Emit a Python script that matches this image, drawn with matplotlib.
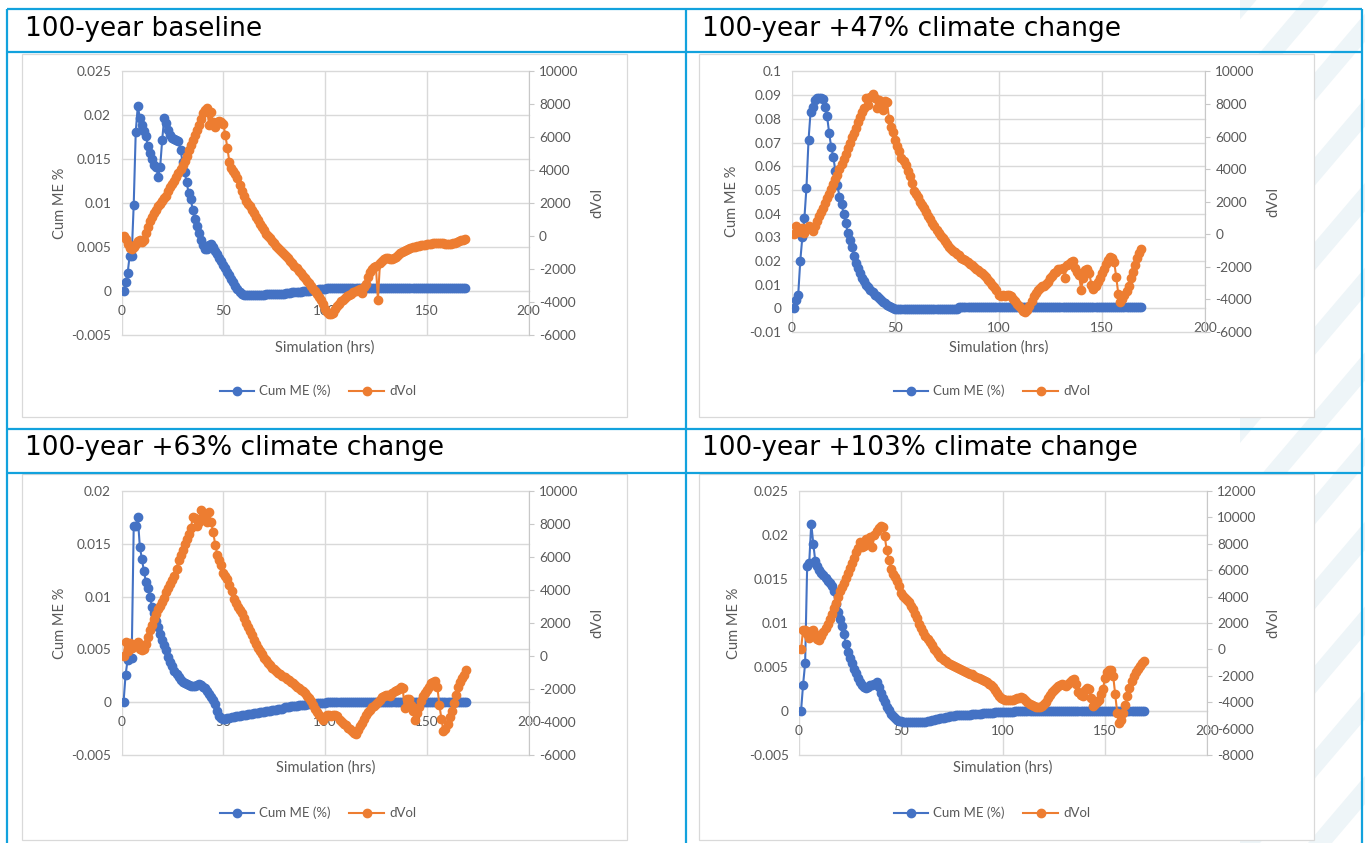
import matplotlib
matplotlib.use('Agg')
import matplotlib.pyplot as plt
import numpy as np
from matplotlib.patches import Rectangle, Polygon
from matplotlib.lines import Line2D
from matplotlib.ticker import FuncFormatter

plt.rcParams['font.family'] = ['Lato', 'DejaVu Sans']

W, H = 1365, 843
BLUE = '#4472c4'
ORANGE = '#ed7d31'
GRID = '#d9d9d9'
TXT = '#595959'
BORDER = '#12a2dd'
MS = 6.0
LW = 1.5

# simulation hours (one value per hour)
hours = list(range(1, 170))

# ---- 100-year baseline ----
base_me = [
    0.0, 0.001, 0.002, 0.004, 0.004, 0.0098, 0.0181, 0.021, 0.0197, 0.0189,
    0.0182, 0.0176, 0.0165, 0.0157, 0.015, 0.0143, 0.0141, 0.013, 0.0141, 0.0172,
    0.0197, 0.0191, 0.0183, 0.0177, 0.0174, 0.0173, 0.0172, 0.017, 0.016, 0.0147,
    0.0135, 0.0124, 0.0111, 0.0105, 0.0092, 0.0082, 0.0074, 0.0066, 0.0058, 0.0052,
    0.0048, 0.0048, 0.0052, 0.0053, 0.005, 0.0046, 0.0042, 0.0038, 0.0034, 0.003,
    0.0026, 0.0022, 0.0018, 0.0014, 0.001, 0.0006, 0.0002, -0.0001, -0.0003, -0.0004,
    -0.0004, -0.0004, -0.0004, -0.0004, -0.0004, -0.0004, -0.0004, -0.0004, -0.0004, -0.0004,
    -0.0003, -0.0003, -0.0003, -0.0003, -0.0003, -0.0003, -0.0003, -0.0003, -0.0003, -0.0003,
    -0.0002, -0.0002, -0.0002, -0.0001, -0.0001, -0.0001, -0.0001, -0.0001, 0.0, 0.0,
    0.0, 0.0, 0.0001, 0.0001, 0.0001, 0.0001, 0.0002, 0.0002, 0.0002, 0.0002,
    0.0003, 0.0003, 0.0003, 0.0003, 0.0003, 0.0003, 0.0003, 0.0003, 0.0003, 0.0003,
    0.0003, 0.0003, 0.0003, 0.0003, 0.0003, 0.0003, 0.0003, 0.0003, 0.0003, 0.0003,
    0.0003, 0.0003, 0.0003, 0.0003, 0.0003, 0.0003, 0.0003, 0.0003, 0.0003, 0.0003,
    0.0003, 0.0003, 0.0003, 0.0003, 0.0003, 0.0003, 0.0003, 0.0003, 0.0003, 0.0003,
    0.0003, 0.0003, 0.0003, 0.0003, 0.0003, 0.0003, 0.0003, 0.0003, 0.0003, 0.0003,
    0.0003, 0.0003, 0.0003, 0.0003, 0.0003, 0.0003, 0.0003, 0.0003, 0.0003, 0.0003,
    0.0003, 0.0003, 0.0003, 0.0003, 0.0003, 0.0003, 0.0003, 0.0003, 0.0003,
]
base_vol = [
    0, -200, -500, -700, -800, -650, -500, -300, -250, -350,
    -250, 200, 550, 900, 1150, 1400, 1600, 1800, 1950, 2100,
    2300, 2450, 2700, 2950, 3150, 3350, 3600, 3800, 4050, 4300,
    4550, 4850, 5200, 5500, 5800, 6150, 6450, 6750, 7100, 7450,
    7650, 7750, 6750, 7500, 6900, 6600, 6900, 7000, 6900, 6800,
    6150, 5350, 4500, 4100, 3950, 3750, 3500, 3100, 2700, 2400,
    2150, 1950, 1800, 1600, 1400, 1150, 950, 750, 550, 350,
    150, 0, -150, -300, -450, -600, -750, -850, -950, -1100,
    -1200, -1350, -1500, -1650, -1800, -1950, -2100, -2250, -2400, -2550,
    -2700, -2850, -3000, -3200, -3350, -3500, -3700, -3900, -4150, -4400,
    -4600, -4700, -4700, -4650, -4450, -4250, -4100, -3950, -3850, -3750,
    -3650, -3600, -3500, -3400, -3350, -3250, -3200, -3450, -3100, -2900,
    -2500, -2200, -2000, -1900, -1800, -3850, -1650, -1500, -1400, -1350,
    -1350, -1400, -1400, -1350, -1250, -1150, -1050, -950, -900, -850,
    -780, -720, -680, -640, -600, -580, -560, -540, -520, -500,
    -480, -460, -440, -420, -400, -400, -410, -450, -480, -500,
    -500, -480, -450, -400, -350, -300, -260, -230, -200,
]

# ---- 100-year +47% climate change ----
p47_me = [
    0.0, 0.0035, 0.0056, 0.02, 0.03, 0.038, 0.051, 0.071, 0.083, 0.085,
    0.088, 0.089, 0.089, 0.089, 0.0885, 0.085, 0.081, 0.074, 0.068, 0.064,
    0.058, 0.052, 0.047, 0.044, 0.04, 0.036, 0.032, 0.029, 0.026, 0.022,
    0.019, 0.017, 0.015, 0.013, 0.0115, 0.01, 0.0088, 0.0078, 0.0068, 0.0058,
    0.005, 0.0042, 0.0035, 0.0028, 0.0022, 0.0016, 0.0011, 0.0006, 0.0002, -0.0001,
    -0.0003, -0.0004, -0.0004, -0.0004, -0.0004, -0.0004, -0.0004, -0.0004, -0.0004, -0.0004,
    -0.0004, -0.0004, -0.0004, -0.0004, -0.0004, -0.0004, -0.0004, -0.0004, -0.0004, -0.0004,
    -0.0004, -0.0004, -0.0004, -0.0004, -0.0004, -0.0004, -0.0004, -0.0004, -0.0004, -0.0004,
    0.0004, 0.0004, 0.0004, 0.0004, 0.0004, 0.0004, 0.0004, 0.0004, 0.0004, 0.0004,
    0.0004, 0.0004, 0.0004, 0.0004, 0.0004, 0.0004, 0.0004, 0.0004, 0.0004, 0.0004,
    0.0004, 0.0004, 0.0004, 0.0004, 0.0004, 0.0004, 0.0004, 0.0004, 0.0004, 0.0004,
    0.0004, 0.0004, 0.0004, 0.0004, 0.0004, 0.0004, 0.0004, 0.0004, 0.0004, 0.0004,
    0.0004, 0.0004, 0.0004, 0.0004, 0.0004, 0.0004, 0.0004, 0.0004, 0.0004, 0.0004,
    0.0004, 0.0004, 0.0004, 0.0004, 0.0004, 0.0004, 0.0004, 0.0004, 0.0004, 0.0004,
    0.0004, 0.0004, 0.0004, 0.0004, 0.0004, 0.0004, 0.0004, 0.0004, 0.0004, 0.0004,
    0.0004, 0.0004, 0.0004, 0.0004, 0.0004, 0.0004, 0.0004, 0.0004, 0.0004, 0.0004,
    0.0004, 0.0004, 0.0004, 0.0004, 0.0004, 0.0004, 0.0004, 0.0004, 0.0004,
]
p47_vol = [
    0, 500, 300, 150, 400, 100, 350, 500, 300, 200,
    500, 800, 1100, 1350, 1600, 1900, 2200, 2450, 2800, 3100,
    3400, 3650, 4000, 4300, 4650, 4950, 5300, 5600, 5950, 6250,
    6550, 6900, 7200, 7500, 7750, 8350, 7950, 8450, 8600, 8400,
    7750, 8250, 8050, 7650, 8200, 8150, 7100, 6600, 6300, 5800,
    5400, 5100, 4700, 4500, 4250, 3900, 3600, 3150, 2650, 2500,
    2300, 2000, 1800, 1600, 1400, 1100, 950, 700, 500, 250,
    100, -100, -250, -400, -600, -750, -900, -1000, -1100, -1200,
    -1300, -1450, -1500, -1600, -1700, -1800, -1900, -2000, -2100, -2200,
    -2300, -2400, -2500, -2650, -2800, -2950, -3100, -3250, -3450, -3700,
    -3800, -3750, -3800, -3750, -3700, -3800, -3950, -4100, -4250, -4400,
    -4550, -4700, -4750, -4650, -4400, -4100, -3800, -3600, -3400, -3300,
    -3200, -3150, -3050, -2900, -2700, -2550, -2400, -2300, -2150, -2100,
    -2050, -2700, -1900, -1800, -1700, -1650, -2050, -2300, -2500, -3400,
    -2700, -2200, -2100, -2400, -3100, -3350, -3200, -2950, -2700, -2400,
    -2100, -1850, -1550, -1400, -1450, -1700, -2600, -3650, -4150, -4000,
    -3750, -3500, -3150, -2700, -2300, -1900, -1450, -1150, -900,
]

# ---- 100-year +63% climate change ----
p63_me = [
    0.0, 0.0026, 0.004, 0.0042, 0.0042, 0.0167, 0.0167, 0.0175, 0.0147, 0.0136,
    0.0124, 0.0114, 0.0108, 0.01, 0.009, 0.0084, 0.0077, 0.0071, 0.0065, 0.0059,
    0.0054, 0.0049, 0.0043, 0.0038, 0.0034, 0.003, 0.0027, 0.0024, 0.0021, 0.0019,
    0.0018, 0.0017, 0.0016, 0.0015, 0.0015, 0.0015, 0.0016, 0.0017, 0.0016, 0.0014,
    0.0013, 0.0011, 0.0008, 0.0005, 0.0002, -0.0002, -0.0008, -0.0013, -0.0015, -0.0016,
    -0.0016, -0.0015, -0.0015, -0.0014, -0.0014, -0.0013, -0.0013, -0.0013, -0.0012, -0.0012,
    -0.0012, -0.0011, -0.0011, -0.0011, -0.001, -0.001, -0.001, -0.0009, -0.0009, -0.0009,
    -0.0008, -0.0008, -0.0008, -0.0007, -0.0007, -0.0007, -0.0006, -0.0006, -0.0006, -0.0005,
    -0.0005, -0.0005, -0.0004, -0.0004, -0.0004, -0.0004, -0.0003, -0.0003, -0.0003, -0.0003,
    -0.0002, -0.0002, -0.0002, -0.0002, -0.0002, -0.0001, -0.0001, -0.0001, -0.0001, -0.0001,
    0.0, 0.0, 0.0, 0.0, 0.0, 0.0, 0.0, 0.0, 0.0, 0.0,
    0.0, 0.0, 0.0, 0.0, 0.0, 0.0, 0.0, 0.0, 0.0, 0.0,
    0.0, 0.0, 0.0, 0.0, 0.0, 0.0, 0.0, 0.0, 0.0, 0.0,
    0.0, 0.0, 0.0, 0.0, 0.0, 0.0, 0.0, 0.0, 0.0, 0.0,
    0.0, 0.0, 0.0, 0.0, 0.0, 0.0, 0.0, 0.0, 0.0, 0.0,
    0.0, 0.0, 0.0, 0.0, 0.0, 0.0, 0.0, 0.0, 0.0, 0.0,
    0.0, 0.0, 0.0, 0.0, 0.0, 0.0, 0.0, 0.0, 0.0,
]
p63_vol = [
    0, 870, 300, 800, 500, 650, 700, 850, 450, 350,
    450, 750, 1150, 1550, 1900, 2250, 2550, 2850, 3050, 3250,
    3500, 3850, 4100, 4350, 4600, 4850, 5300, 5800, 6150, 6450,
    6800, 7100, 7400, 7750, 8400, 8350, 7850, 8100, 8850, 8300,
    8550, 8100, 8750, 8100, 7500, 6750, 6150, 5800, 5500, 5050,
    4850, 4650, 4300, 3950, 3450, 3200, 3000, 2800, 2600, 2300,
    2000, 1750, 1500, 1250, 1000, 750, 500, 300, 100, -100,
    -250, -400, -550, -700, -800, -900, -1000, -1100, -1200, -1300,
    -1400, -1450, -1550, -1650, -1750, -1850, -1950, -2050, -2150, -2250,
    -2400, -2550, -2750, -2950, -3200, -3400, -3550, -3700, -3850, -3700,
    -3550, -3600, -3650, -3600, -3550, -3650, -3850, -4000, -4100, -4200,
    -4350, -4450, -4550, -4650, -4700, -4500, -4250, -4050, -3800, -3550,
    -3400, -3250, -3100, -3000, -2900, -2800, -2650, -2500, -2400, -2350,
    -2350, -2400, -2250, -2150, -2050, -2000, -1900, -1950, -3150, -2600,
    -2600, -2950, -3350, -3900, -3450, -3100, -2700, -2450, -2250, -2050,
    -1850, -1650, -1550, -1500, -1850, -2950, -3800, -4550, -4400, -4100,
    -3700, -3350, -2850, -2350, -1900, -1600, -1350, -1150, -850,
]

# ---- 100-year +103% climate change ----
p103_me = [
    0.0, 0.003, 0.0054, 0.0165, 0.0168, 0.0213, 0.019, 0.017, 0.0165, 0.016,
    0.0157, 0.0154, 0.0151, 0.0148, 0.0145, 0.0142, 0.0136, 0.0122, 0.0113, 0.0105,
    0.0097, 0.0088, 0.0076, 0.0067, 0.006, 0.0054, 0.0048, 0.0043, 0.0037, 0.0033,
    0.0029, 0.0027, 0.0026, 0.0027, 0.0029, 0.003, 0.0031, 0.0033, 0.0027, 0.0021,
    0.0015, 0.001, 0.0005, 0.0001, -0.0003, -0.0006, -0.0008, -0.001, -0.0011, -0.0011,
    -0.0012, -0.0012, -0.0012, -0.0012, -0.0012, -0.0012, -0.0012, -0.0012, -0.0012, -0.0012,
    -0.0012, -0.0012, -0.0011, -0.0011, -0.001, -0.001, -0.0009, -0.0009, -0.0008, -0.0008,
    -0.0008, -0.0007, -0.0007, -0.0006, -0.0006, -0.0006, -0.0005, -0.0005, -0.0005, -0.0005,
    -0.0004, -0.0004, -0.0004, -0.0004, -0.0003, -0.0003, -0.0003, -0.0003, -0.0003, -0.0002,
    -0.0002, -0.0002, -0.0002, -0.0002, -0.0002, -0.0001, -0.0001, -0.0001, -0.0001, -0.0001,
    -0.0001, -0.0001, -0.0001, -0.0001, -0.0001, 0.0, 0.0, 0.0, 0.0, 0.0,
    0.0, 0.0, 0.0, 0.0, 0.0, 0.0, 0.0, 0.0, 0.0, 0.0,
    0.0, 0.0, 0.0, 0.0, 0.0, 0.0, 0.0, 0.0, 0.0, 0.0,
    0.0, 0.0, 0.0, 0.0, 0.0, 0.0, 0.0, 0.0, 0.0, 0.0,
    0.0, 0.0, 0.0, 0.0, 0.0, 0.0, 0.0, 0.0, 0.0, 0.0,
    0.0, 0.0, 0.0, 0.0, 0.0, 0.0, 0.0, 0.0, 0.0, 0.0,
    0.0, 0.0, 0.0, 0.0, 0.0, 0.0, 0.0, 0.0, 0.0,
]
p103_vol = [
    0, 1500, 1500, 1150, 900, 1400, 1500, 1150, 800, 750,
    1000, 1300, 1600, 1900, 2300, 2700, 3100, 3550, 4000, 4400,
    4700, 5050, 5400, 5800, 6200, 6550, 6950, 7350, 7700, 8100,
    7750, 7800, 8350, 8100, 8550, 7750, 8700, 9000, 9200, 9350,
    9250, 8600, 7500, 6800, 6100, 5700, 5450, 5150, 4800, 4300,
    4050, 3900, 3750, 3600, 3300, 3050, 2700, 2350, 1950, 1650,
    1350, 1050, 800, 550, 300, 50, -150, -350, -550, -650,
    -800, -900, -1000, -1100, -1200, -1250, -1300, -1400, -1500, -1550,
    -1650, -1700, -1750, -1850, -1900, -2000, -2100, -2150, -2250, -2350,
    -2400, -2500, -2600, -2700, -2850, -3050, -3300, -3500, -3650, -3750,
    -3800, -3800, -3800, -3800, -3800, -3750, -3700, -3650, -3600, -3650,
    -3800, -3950, -4100, -4200, -4300, -4350, -4400, -4350, -4300, -4150,
    -3950, -3700, -3450, -3250, -3050, -2900, -2800, -2700, -2650, -2700,
    -2800, -2600, -2500, -2350, -2250, -2650, -3250, -3450, -3550, -3100,
    -2900, -3000, -3650, -4300, -4100, -4000, -3800, -3400, -3000, -2200,
    -1700, -1550, -1550, -2000, -3400, -4800, -5550, -5350, -4850, -4200,
    -3500, -2900, -2400, -2000, -1700, -1450, -1250, -1050, -900,
]

titles = ['100-year baseline', '100-year +47% climate change',
          '100-year +63% climate change', '100-year +103% climate change']
x_ticks = [0, 50, 100, 150, 200]


def fmt_left(v, pos):
    s = f'{round(v, 6):g}'
    return '0' if s in ('0', '-0') else s


fig = plt.figure(figsize=(W / 100, H / 100), dpi=100)
fig.patch.set_facecolor('white')

# background layer in pixel coordinates (y down)
bg = fig.add_axes([0, 0, 1, 1], zorder=-5)
bg.set_xlim(0, W)
bg.set_ylim(H, 0)
bg.axis('off')

# faint diagonal watermark stripes at the right edge
clip = Rectangle((1240, 0), W - 1240, H, transform=bg.transData)
for c in range(300, 1450, 72):
    st = Polygon([(c, H), (c + 24, H), (c + 24 + H * 0.85, 0), (c + H * 0.85, 0)],
                 closed=True, facecolor='#eef5f8', edgecolor='none')
    bg.add_patch(st)
    st.set_clip_path(clip)

# excel chart areas
for (x0, y0, x1, y1) in [(22, 54, 627, 417), (699, 54, 1314, 417),
                         (22, 474, 627, 840), (699, 474, 1314, 840)]:
    bg.add_patch(Rectangle((x0, y0), x1 - x0, y1 - y0, facecolor='white',
                           edgecolor=GRID, lw=0.9, zorder=2))

# table borders
for yy in [9, 52, 429, 473]:
    bg.plot([7, 1362], [yy, yy], color=BORDER, lw=1.6, zorder=3,
            solid_capstyle='butt')
for xx in [7, 686, 1362]:
    bg.plot([xx, xx], [9, H], color=BORDER, lw=1.6, zorder=3,
            solid_capstyle='butt')

title_pos = [(25, 29), (702, 29), (25, 448), (702, 448)]
for t, (tx, ty) in zip(titles, title_pos):
    bg.text(tx, ty, t, fontsize=19, family='DejaVu Sans', color='black',
            ha='left', va='center', zorder=4)

charts = [
    dict(box=(121.5, 71, 528.5, 335), me=base_me, vol=base_vol,
         lim=(-0.005, 0.025), nl=6, vlim=(-6000, 10000), nr=8,
         cum_x=60, dvol_x=597, sim_y=348, leg=(318, 391)),
    dict(box=(792, 71.5, 1205, 332), me=p47_me, vol=p47_vol,
         lim=(-0.01, 0.1), nl=11, vlim=(-6000, 10000), nr=8,
         cum_x=732, dvol_x=1273, sim_y=348, leg=(992, 391)),
    dict(box=(121.5, 491, 529, 755), me=p63_me, vol=p63_vol,
         lim=(-0.005, 0.02), nl=5, vlim=(-6000, 10000), nr=8,
         cum_x=60, dvol_x=597, sim_y=768, leg=(318, 813)),
    dict(box=(799, 491, 1207, 755), me=p103_me, vol=p103_vol,
         lim=(-0.005, 0.025), nl=6, vlim=(-8000, 12000), nr=10,
         cum_x=734, dvol_x=1273, sim_y=768, leg=(992, 813)),
]

for ch in charts:
    x0, y0, x1, y1 = ch['box']
    ax = fig.add_axes([x0 / W, 1 - y1 / H, (x1 - x0) / W, (y1 - y0) / H])
    ax.set_facecolor('none')
    ax.set_xlim(0, 200)
    ax.set_ylim(*ch['lim'])
    ax.set_xticks(x_ticks)
    ax.set_yticks(np.linspace(ch['lim'][0], ch['lim'][1], ch['nl'] + 1))
    ax.yaxis.set_major_formatter(FuncFormatter(fmt_left))
    ax.grid(True, color=GRID, lw=1.0)
    ax.set_axisbelow(True)
    for gl in ax.get_xgridlines() + ax.get_ygridlines():
        gl.set_clip_on(False)
    for s in ['top', 'left', 'right']:
        ax.spines[s].set_visible(False)
    ax.spines['bottom'].set_position(('data', 0))
    ax.spines['bottom'].set_color(GRID)
    ax.tick_params(axis='y', length=0, pad=7.5, labelsize=9.8, labelcolor=TXT)
    ax.tick_params(axis='x', length=0, pad=10, labelsize=9.8, labelcolor=TXT)
    ax.plot(hours, ch['me'], '-o', color=BLUE, ms=MS, lw=LW, zorder=3)

    ax2 = ax.twinx()
    ax2.set_ylim(*ch['vlim'])
    ax2.set_yticks(np.linspace(ch['vlim'][0], ch['vlim'][1], ch['nr'] + 1))
    ax2.yaxis.set_major_formatter(FuncFormatter(lambda v, p: f'{int(round(v))}'))
    for s in ['top', 'left', 'bottom']:
        ax2.spines[s].set_visible(False)
    ax2.spines['right'].set_color('#c8c8c8')
    ax2.tick_params(axis='y', length=3.5, width=0.8, color='#c8c8c8', pad=4,
                    labelsize=9.8, labelcolor=TXT)
    ax2.plot(hours, ch['vol'], '-o', color=ORANGE, ms=MS, lw=LW, zorder=3)

    cy = (y0 + y1) / 2
    fig.text(ch['cum_x'] / W, 1 - cy / H, 'Cum ME %', rotation=90, fontsize=10.5,
             color=TXT, ha='center', va='center')
    fig.text(ch['dvol_x'] / W, 1 - cy / H, 'dVol', rotation=90, fontsize=10.5,
             color=TXT, ha='center', va='center')
    fig.text((x0 + x1) / 2 / W, 1 - ch['sim_y'] / H, 'Simulation (hrs)',
             fontsize=10.5, color=TXT, ha='center', va='center')

    handles = [Line2D([], [], color=BLUE, marker='o', ms=MS, lw=LW),
               Line2D([], [], color=ORANGE, marker='o', ms=MS, lw=LW)]
    lx, ly = ch['leg']
    fig.legend(handles, ['Cum ME (%)', 'dVol'], loc='center',
               bbox_to_anchor=(lx / W, 1 - ly / H), ncol=2, frameon=False,
               fontsize=9.5, labelcolor=TXT, handlelength=2.6,
               handletextpad=0.4, columnspacing=1.4, numpoints=1)

fig.savefig('out.png', dpi=100, facecolor='white')
